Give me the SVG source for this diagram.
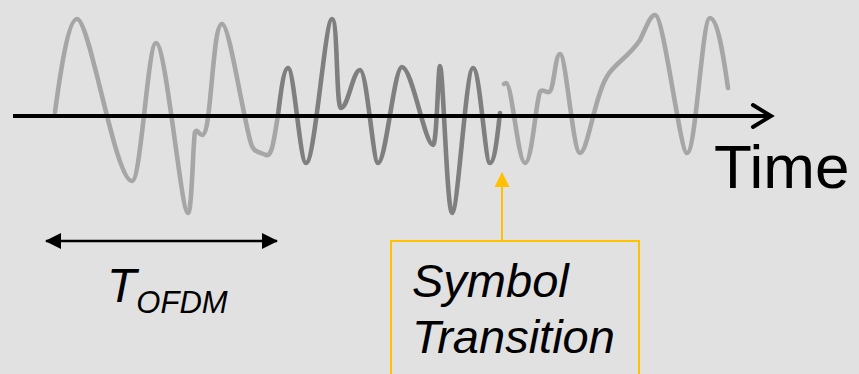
<svg xmlns="http://www.w3.org/2000/svg" width="859" height="374" viewBox="0 0 859 374">
<style>
.wl{fill:none;stroke:#a6a6a6;stroke-width:4.6;stroke-linecap:round;stroke-linejoin:round}
.wd{fill:none;stroke:#7f7f7f;stroke-width:4.6;stroke-linecap:round;stroke-linejoin:round}
.lbl{font-family:"Liberation Sans",Arial,sans-serif;fill:#000}
.it{font-style:italic}
</style>
<defs>
<marker id="ah" viewBox="0 0 16 16" refX="15" refY="8" markerWidth="16" markerHeight="16" markerUnits="userSpaceOnUse" orient="auto-start-reverse">
<path d="M0,0 L16,8 L0,16 Z" fill="#000"/>
</marker>
<marker id="ay" viewBox="0 0 15 15" refX="14" refY="7.5" markerWidth="15" markerHeight="15" markerUnits="userSpaceOnUse" orient="auto">
<path d="M0,0 L15,7.5 L0,15 Z" fill="#FFC000"/>
</marker>
</defs>
<rect width="859" height="374" fill="#e1e1e1"/>
<g id="waveform">
<path class="wl" d="M55,112 C60,75 68,19 77,19 C90,19 115,181 132,181 C141,181 148,43 156,43 C166,43 181,213 188,213 C192,213 193,140 195,132 C197,128 199,135 202,135 C206,135 208,120 210,100 C214,60 216,24 222,24 C229,24 240,100 250,140 C253,152 256,151 266,155 C272,157 274,140 278,115"/>
<path class="wd" d="M278,115 C281,90 284,68 288,68 C294,68 300,163 306,163 C315,163 325,19 332,19 C338,19 336,108 341,108 C348,108 353,70 360,70 C367,70 373,163 378,163 C386,163 394,67 402,67 C412,67 425,145 433,145 C437,145 438,66 440,66 C443,66 447,213 452,213 C458,213 466,68 473,68 C480,68 485,163 490,163 C495,163 498,130 500,113"/>
<path class="wl" d="M504,84 L506,83 C512,83 518,163 525,163 C532,163 536,100 540,92 C543,88 545,93 549,92 C554,91 555,54 560,54 C566,54 573,153 580,153 C588,153 595,90 610,72 C620,60 630,55 640,40 C646,28 650,15 655,15 C664,15 680,153 687,153 C696,153 702,18 710,18 C718,18 724,60 728,88"/>
</g>
<g id="time-axis">
<line x1="13" y1="116" x2="770" y2="116" stroke="#000" stroke-width="4"/>
<polyline points="753,105 771,116 753,127" fill="none" stroke="#000" stroke-width="4" stroke-linecap="round" stroke-linejoin="miter"/>
<text class="lbl" x="714" y="188" font-size="62">Time</text>
</g>
<g id="t-ofdm">
<text class="lbl it" x="107" y="302" font-size="48">T<tspan font-size="31" dy="11">OFDM</tspan></text>
</g>
<g id="symbol-transition">
<rect x="391" y="241" width="248" height="150" fill="none" stroke="#FFC000" stroke-width="2"/>
<text class="lbl it" x="412" y="297" font-size="47">Symbol</text>
<text class="lbl it" x="412" y="353" font-size="47">Transition</text>
</g>
<g id="connectors">
<line x1="46" y1="241" x2="277" y2="241" stroke="#000" stroke-width="2.5" marker-start="url(#ah)" marker-end="url(#ah)"/>
<line x1="502" y1="241" x2="502" y2="173" stroke="#FFC000" stroke-width="2" marker-end="url(#ay)"/>
</g>
</svg>
